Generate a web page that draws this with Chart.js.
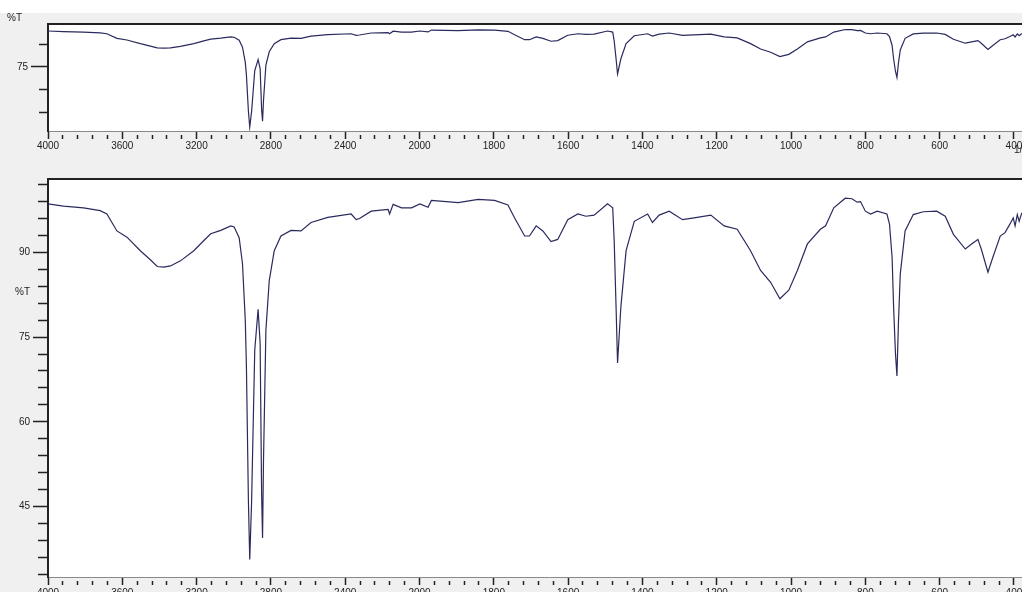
<!DOCTYPE html>
<html lang="en">
<head>
<meta charset="UTF-8">
<title>IR spectrum %T</title>
<script src="https://cdn.jsdelivr.net/npm/chart.js@4.4.0/dist/chart.umd.min.js"></script>
<style>
  html, body { margin: 0; padding: 0; width: 1022px; height: 592px; overflow: hidden; background: #fff; }
  #panel { position: absolute; left: 0; top: 13px; width: 1022px; height: 579px; background: #f0f0f0; }
  .box { position: absolute; left: 0; }
  #topBox { top: 13px; }
  #bottomBox { top: 170px; }
</style>
</head>
<body>
<div id="panel"></div>
<div class="box" id="topBox"><canvas id="topChart" width="1060" height="157"></canvas></div>
<div class="box" id="bottomBox"><canvas id="bottomChart" width="1060" height="450"></canvas></div>
<script>
// spectrum (wavenumber in 1/cm, transmittance in %T)
const wavenumbers = [
  4000, 3917, 3809, 3719, 3683, 3629, 3575, 3503, 3449, 3412, 3377, 3341, 3287, 3215, 3161,
  3124, 3070, 3016, 2998, 2971, 2953, 2938, 2932, 2921, 2914, 2904, 2887, 2869, 2858, 2850,
  2845, 2840, 2827, 2809, 2782, 2746, 2692, 2638, 2584, 2494, 2368, 2341, 2323, 2260, 2169,
  2161, 2142, 2097, 2043, 1999, 1977, 1968, 1896, 1842, 1798, 1762, 1744, 1717, 1704, 1686,
  1668, 1646, 1628, 1601, 1574, 1552, 1530, 1494, 1480, 1476, 1471, 1467, 1458, 1444, 1422,
  1386, 1373, 1355, 1328, 1292, 1261, 1216, 1180, 1145, 1109, 1082, 1055, 1030, 1006, 983,
  956, 921, 907, 885, 854, 836, 822, 813, 800, 786, 768, 742, 735, 728, 724,
  719, 715, 711, 706, 693, 671, 644, 608, 585, 563, 531, 514, 497, 488, 470,
  457, 437, 424, 411, 402, 397, 391, 386, 379
];
const transmittance = [
  98.6, 98.2, 97.9, 97.4, 96.8, 93.8, 92.7, 90.3, 88.7, 87.5, 87.4, 87.6, 88.5, 90.3, 92.1,
  93.3, 93.9, 94.7, 94.5, 92.6, 88.0, 78.0, 70.0, 45.8, 35.6, 45.8, 72.7, 79.9, 73.9, 47.0,
  39.4, 52.9, 76.2, 85.0, 90.3, 92.9, 93.9, 93.8, 95.3, 96.2, 96.8, 95.8, 96.0, 97.3, 97.6,
  96.8, 98.5, 97.9, 97.9, 98.6, 98.0, 99.2, 98.8, 99.4, 99.2, 98.4, 96.1, 92.9, 92.9, 94.7,
  93.8, 91.9, 92.3, 95.8, 96.8, 96.4, 96.6, 98.6, 97.9, 92.0, 80.4, 70.4, 80.4, 90.3, 95.5,
  96.8, 95.3, 96.6, 97.3, 95.8, 96.1, 96.6, 94.7, 94.1, 90.3, 86.8, 84.7, 81.8, 83.3, 86.8,
  91.5, 94.1, 94.7, 97.9, 99.6, 99.5, 98.9, 99.0, 97.3, 96.8, 97.3, 96.8, 95.0, 89.1, 80.4,
  72.2, 68.1, 77.4, 86.2, 93.8, 96.7, 97.2, 97.3, 96.4, 93.2, 90.6, 91.5, 92.3, 90.6, 86.5,
  89.1, 92.9, 93.5, 95.0, 96.1, 94.7, 96.7, 95.5, 97.0
];

const xMajorTicks = [4000, 3600, 3200, 2800, 2400, 2000, 1800, 1600, 1400, 1200, 1000, 800, 600, 400];
const topYTicks = [45, 60, 75, 90];
const topYLabels = [75];
const bottomYTicks = [33, 36, 39, 42, 45, 48, 51, 54, 57, 60, 63, 66, 69, 72, 75, 78, 81, 84, 87, 90, 93, 96, 99, 102];
const bottomYLabels = [45, 60, 75, 90];

// the x axis is compressed 2:1 above 2000 1/cm, as on the instrument print-out
function toAxis(wn) { return wn > 2000 ? 2000 + (wn - 2000) / 2 : wn; }
function fromAxis(u) { return u > 2000 ? 2000 + (u - 2000) * 2 : u; }

const points = wavenumbers.map((wn, i) => ({ x: toAxis(wn), y: transmittance[i] }));
const xTickValues = [];
for (let u = 3000; u >= 320; u -= 40) xTickValues.push(u);
const isXMajor = u => xMajorTicks.includes(Math.round(fromAxis(u)));

const INK = '#222';
const LINE = '#2a2a5e';
const FONT = { family: '"Liberation Sans", Arial, sans-serif', size: 10 };

const framePlugin = {
  id: 'frame',
  beforeDraw(chart) {
    const a = chart.chartArea, ctx = chart.ctx;
    ctx.save();
    ctx.fillStyle = '#fff';
    ctx.fillRect(a.left, a.top, a.right - a.left, a.bottom - a.top);
    ctx.restore();
  },
  afterDraw(chart, args, opts) {
    const a = chart.chartArea, ctx = chart.ctx;
    ctx.save();
    ctx.strokeStyle = INK;
    ctx.lineWidth = 2;
    ctx.beginPath();
    ctx.moveTo(a.left - 1, a.top);
    ctx.lineTo(a.right, a.top);
    ctx.stroke();
    ctx.fillStyle = INK;
    ctx.font = '10px "Liberation Sans", Arial, sans-serif';
    ctx.textBaseline = 'middle';
    ctx.textAlign = 'left';
    (opts.texts || []).forEach(t => ctx.fillText(t.text, t.x, t.y));
    if (opts.unit) {
      const x = chart.scales.x.getPixelForValue(400);
      ctx.fillText('1/cm', x, chart.scales.x.top + opts.unit);
    }
    ctx.restore();
  }
};

function makeChart(id, cfg) {
  const yMajorSet = cfg.yLabels;
  new Chart(document.getElementById(id), {
    type: 'line',
    data: {
      datasets: [{
        data: points,
        borderColor: LINE,
        borderWidth: 1.2,
        pointRadius: 0,
        tension: 0,
        fill: false
      }]
    },
    options: {
      responsive: false,
      animation: false,
      devicePixelRatio: 1,
      layout: { padding: { top: cfg.padTop, right: 10, bottom: 0, left: 0 } },
      plugins: {
        legend: { display: false },
        tooltip: { enabled: false },
        frame: { texts: cfg.texts, unit: cfg.unit }
      },
      scales: {
        x: {
          type: 'linear',
          reverse: true,
          min: 303,
          max: 3000,
          afterFit(s) { s.height = cfg.xHeight; },
          afterBuildTicks(s) { s.ticks = xTickValues.map(v => ({ value: v })); },
          border: { display: true, color: '#8a8a8a', width: 1 },
          grid: {
            drawOnChartArea: false,
            drawTicks: true,
            tickLength: 8,
            tickColor: INK,
            tickWidth: 1.5,
            tickBorderDash: c => (c.tick && !isXMajor(c.tick.value)) ? [0, 3, 4, 100] : []
          },
          ticks: {
            autoSkip: false,
            maxRotation: 0,
            padding: cfg.xPad,
            color: INK,
            font: FONT,
            callback: v => isXMajor(v) ? String(Math.round(fromAxis(v))) : ''
          }
        },
        y: {
          type: 'linear',
          min: cfg.yMin,
          max: cfg.yMax,
          afterFit(s) { s.width = 48; },
          afterBuildTicks(s) { s.ticks = cfg.yTicks.map(v => ({ value: v })); },
          border: { display: true, color: INK, width: 2 },
          grid: {
            drawOnChartArea: false,
            drawTicks: true,
            tickLength: cfg.majorLen,
            tickColor: INK,
            tickWidth: 1.5,
            tickBorderDash: c => (c.tick && !yMajorSet.includes(c.tick.value))
              ? [0, cfg.majorLen - cfg.minorLen, cfg.minorLen, 100] : []
          },
          ticks: {
            autoSkip: false,
            padding: 3,
            color: INK,
            font: FONT,
            callback: v => yMajorSet.includes(v) ? String(v) : ''
          }
        }
      }
    },
    plugins: [framePlugin]
  });
}

makeChart('topChart', {
  yMin: 33, yMax: 103.2, yTicks: topYTicks, yLabels: topYLabels,
  majorLen: 17, minorLen: 9, padTop: 11, xHeight: 39, xPad: 1,
  texts: [{ text: '%T', x: 7, y: 5 }], unit: 19
});

makeChart('bottomChart', {
  yMin: 32.5, yMax: 103, yTicks: bottomYTicks, yLabels: bottomYLabels,
  majorLen: 15, minorLen: 10, padTop: 4, xHeight: 43, xPad: 2,
  texts: [{ text: '%T', x: 15, y: 122 }], unit: 0
});
</script>
</body>
</html>
